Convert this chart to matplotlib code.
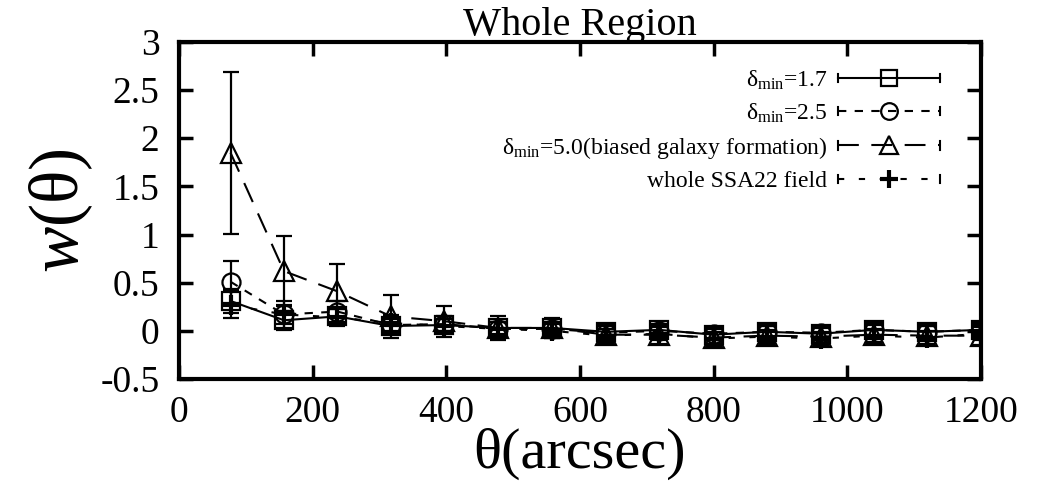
import matplotlib
matplotlib.use("Agg")
import matplotlib.pyplot as plt
from matplotlib.lines import Line2D
from matplotlib.legend_handler import HandlerLine2D

plt.rcParams['font.family'] = ['Liberation Serif', 'DejaVu Serif']
plt.rcParams['mathtext.fontset'] = 'custom'
plt.rcParams['mathtext.rm'] = 'Liberation Serif'
plt.rcParams['mathtext.it'] = 'Liberation Serif:italic'

theta = [77, 157, 237, 317, 397, 478, 558, 639, 719, 800, 880, 960, 1040, 1120, 1200]

w_17 = [0.31, 0.11, 0.15, 0.05, 0.06, 0.03, 0.03, -0.01, 0.01, -0.04, -0.01, -0.03, 0.01, -0.01, 0.01]
e_17 = [0.12, 0.10, 0.08, 0.07, 0.06, 0.06, 0.06, 0.06, 0.06, 0.06, 0.06, 0.06, 0.06, 0.06, 0.06]

w_25 = [0.51, 0.17, 0.20, 0.06, 0.07, 0.02, 0.02, -0.02, 0.00, -0.03, -0.01, -0.02, 0.01, -0.01, 0.01]
e_25 = [0.22, 0.14, 0.11, 0.09, 0.08, 0.07, 0.07, 0.07, 0.07, 0.07, 0.07, 0.07, 0.07, 0.07, 0.07]

w_50 = [1.85, 0.62, 0.41, 0.15, 0.10, 0.03, 0.03, -0.04, -0.04, -0.07, -0.05, -0.06, -0.04, -0.05, -0.05]
e_50 = [0.84, 0.36, 0.28, 0.22, 0.16, 0.12, 0.10, 0.10, 0.10, 0.10, 0.10, 0.10, 0.10, 0.10, 0.10]

w_all = [0.27, 0.17, 0.14, 0.08, 0.05, 0.02, 0.00, -0.05, -0.03, -0.08, -0.06, -0.08, -0.05, -0.07, -0.03]
e_all = [0.14, 0.10, 0.09, 0.08, 0.07, 0.07, 0.07, 0.07, 0.07, 0.07, 0.07, 0.07, 0.07, 0.07, 0.07]

labels = [r'δ$_{\mathrm{min}}$=1.7', r'δ$_{\mathrm{min}}$=2.5',
          r'δ$_{\mathrm{min}}$=5.0(biased galaxy formation)', 'whole SSA22 field']
xticks = [0, 200, 400, 600, 800, 1000, 1200]
yticks = [-0.5, 0, 0.5, 1, 1.5, 2, 2.5, 3]

fig = plt.figure(figsize=(10.62, 4.99), dpi=100)
ax = fig.add_axes([0.1686, 0.2405, 0.755, 0.6755])

series = [
    (w_17, e_17, 's', '-', 13),
    (w_25, e_25, 'o', (0, (4, 4)), 13),
    (w_50, e_50, '^', (0, (10, 6)), 14),
    (w_all, e_all, '+', (0, (3, 7)), 14),
]
handles = []
for (w, e, m, ls, ms), lab in zip(series, labels):
    mew = 3 if m == '+' else 1.6
    ax.errorbar(theta, w, yerr=e, fmt='none', ecolor='black', elinewidth=1.6,
                capsize=6, capthick=1.6)
    ax.plot(theta, w, color='black', lw=1.5, linestyle=ls)
    ax.plot(theta, w, linestyle='none', marker=m, ms=ms, mfc='none',
            mec='black', mew=mew)
    handles.append(Line2D([], [], color='black', lw=1.5, linestyle=ls, marker=m,
                          ms=ms - 1, mfc='none', mec='black', mew=mew))


class CapHandler(HandlerLine2D):
    def create_artists(self, legend, orig_handle, xdescent, ydescent, width, height,
                       fontsize, trans):
        arts = super().create_artists(legend, orig_handle, xdescent, ydescent, width,
                                      height, fontsize, trans)
        yc = height / 2 - ydescent
        for xx in (-xdescent, width - xdescent):
            cap = Line2D([xx, xx], [yc - height * 0.25, yc + height * 0.25], color='black',
                         lw=1.5, transform=trans)
            arts.append(cap)
        return arts


ax.legend(handles, labels, loc='upper right', bbox_to_anchor=(0.975, 0.985),
          frameon=False, markerfirst=False, fontsize=17, handlelength=4.3,
          labelspacing=0.42, handletextpad=0.45,
          handler_map={h: CapHandler() for h in handles})

ax.set_xlim(0, 1200)
ax.set_ylim(-0.5, 3)
ax.set_xticks(xticks)
ax.set_yticks(yticks)
ax.set_yticklabels(['-0.5', '0', '0.5', '1', '1.5', '2', '2.5', '3'])
ax.tick_params(direction='in', length=10, width=2.5, labelsize=27,
               top=True, right=True)
ax.tick_params(axis='x', pad=12)
ax.tick_params(axis='y', pad=14)
for sp in ax.spines.values():
    sp.set_linewidth(3)

ax.set_title('Whole Region', fontsize=29, pad=5)
ax.set_xlabel('θ(arcsec)', fontsize=42, labelpad=-2)
ax.set_ylabel(r'$w$(θ)', fontsize=50, labelpad=4)

fig.savefig('out.png', dpi=100)
